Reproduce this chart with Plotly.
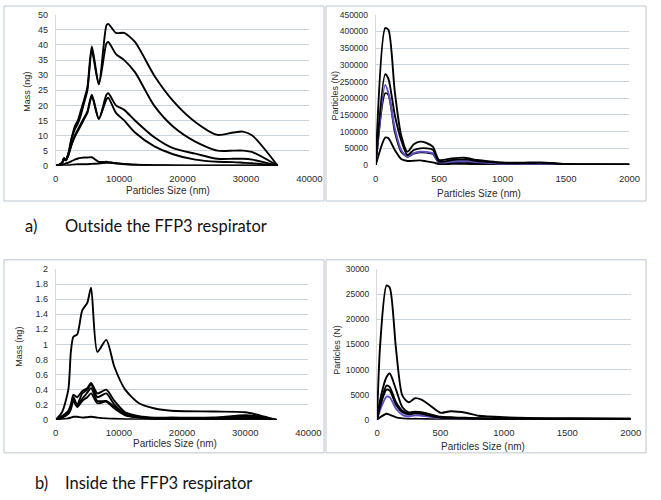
import plotly.graph_objects as go

# ---------- data ----------
# a) outside, mass
mass_out_x = [0, 500, 1000, 1300, 1600, 2000, 2500, 3000, 3500, 4000, 4500, 5000, 5700, 6800,
              8000, 8300, 9500, 10800, 12500, 15500, 18500, 22000, 25500, 28000, 29500, 31000, 35000]
mass_out_1 = [0, 0.3, 1, 2.5, 2, 4, 9, 13, 15, 18.5, 22, 26, 39.5, 27, 46.5, 47, 44, 44, 41, 30, 21.5, 14.5, 10.2, 11, 11.3, 10, 0]
mass_out_2 = [0, 0.3, 1, 2.5, 2, 4, 9, 12, 14, 17, 21, 25, 38, 27, 40.5, 41, 37, 35, 31, 20, 13, 8, 5, 5, 5, 4.5, 0]
mass_out_3 = [0, 0.2, 0.8, 2, 1.8, 3.5, 7, 10, 12, 14, 16, 18, 23.5, 15.5, 23.5, 24, 20, 18.5, 15, 9.5, 5.8, 4, 2.3, 2.3, 2.3, 2, 0]
mass_out_4 = [0, 0.2, 0.8, 2, 1.8, 3.5, 7, 9.5, 11.5, 13.5, 15.5, 17.5, 23, 15.5, 22, 22.5, 17.5, 15, 11, 6.5, 3.8, 2, 1.3, 1.2, 1, 0.8, 0]
mass_out_5 = [0, 0.1, 0.3, 0.5, 0.8, 1, 1.5, 2, 2.4, 2.6, 2.7, 2.7, 2.8, 1.3, 1.3, 1.2, 0.8, 0.5, 0.3, 0.2, 0.1, 0.1, 0.1, 0.1, 0.1, 0.05, 0]
mass_out_6 = [0, 0, 0.05, 0.1, 0.1, 0.2, 0.3, 0.4, 0.5, 0.5, 0.5, 0.5, 0.6, 0.7, 1, 1, 0.8, 0.6, 0.3, 0.1, 0.05, 0, 0, 0, 0, 0, 0]

# a) outside, particles
part_out_x = [0, 75, 100, 150, 200, 250, 300, 350, 400, 450, 500, 600, 700, 800, 900, 1000,
              1100, 1200, 1300, 1400, 1500, 1750, 2000]
part_out_1 = [0, 410000, 405000, 220000, 90000, 40000, 62000, 70000, 66000, 55000, 15000, 20000, 22000, 15000, 11000, 8000,
              7000, 7500, 8000, 6000, 3000, 2500, 2000]
part_out_2 = [0, 272000, 258000, 150000, 75000, 30000, 45000, 50000, 50000, 46000, 10000, 15000, 17000, 12000, 9000, 6000,
              5500, 6000, 6500, 4500, 2500, 2000, 1500]
part_out_3 = [0, 240000, 215000, 110000, 45000, 25000, 36000, 40000, 39000, 35000, 8000, 10000, 12000, 9000, 6000, 4000,
              3500, 4000, 4000, 3000, 1500, 1200, 1000]
part_out_4 = [0, 215000, 210000, 100000, 40000, 25000, 34000, 38000, 37000, 33000, 7000, 9000, 10000, 8000, 5000, 3500,
              3000, 3500, 3500, 2500, 1200, 1000, 800]
part_out_5 = [0, 82000, 80000, 45000, 18000, 12000, 13000, 14000, 11000, 8000, 3000, 3500, 4000, 3000, 2000, 1500,
              1200, 1200, 1000, 800, 500, 400, 300]

# b) inside, mass
mass_in_x = [0, 1000, 2000, 2400, 2800, 3400, 4200, 5000, 5600, 6600, 8000, 9300, 11000, 13200,
             15700, 18300, 25000, 30000, 32300, 35000]
mass_in_1 = [0, 0.1, 0.4, 0.9, 1.1, 1.13, 1.45, 1.55, 1.75, 0.9, 1.06, 0.7, 0.4, 0.22, 0.15, 0.12, 0.11, 0.1, 0.06, 0]
mass_in_2 = [0, 0.05, 0.12, 0.2, 0.33, 0.3, 0.38, 0.42, 0.49, 0.35, 0.4, 0.25, 0.1, 0.05, 0.03, 0.03, 0.03, 0.06, 0.04, 0]
mass_in_3 = [0, 0.04, 0.1, 0.18, 0.3, 0.2, 0.35, 0.4, 0.47, 0.3, 0.35, 0.2, 0.08, 0.04, 0.02, 0.02, 0.02, 0.04, 0.03, 0]
mass_in_4 = [0, 0.03, 0.09, 0.16, 0.28, 0.18, 0.28, 0.36, 0.42, 0.25, 0.25, 0.17, 0.07, 0.03, 0.02, 0.01, 0.01, 0.02, 0.02, 0]
mass_in_5 = [0, 0.03, 0.08, 0.14, 0.25, 0.17, 0.25, 0.3, 0.35, 0.22, 0.24, 0.15, 0.06, 0.03, 0.01, 0.01, 0.01, 0.01, 0.01, 0]
mass_in_6 = [0, 0.01, 0.02, 0.03, 0.04, 0.04, 0.03, 0.035, 0.04, 0.03, 0.02, 0.015, 0.01, 0.005, 0, 0, 0, 0, 0, 0]

# b) inside, particles
part_in_x = [0, 25, 75, 100, 150, 200, 250, 300, 350, 420, 500, 580, 700, 800, 1000, 1500, 2000]
part_in_1 = [0, 15000, 26700, 26300, 14000, 4800, 3500, 4300, 4000, 2800, 1400, 1700, 1400, 800, 500, 300, 200]
part_in_2 = [0, 4000, 8500, 9200, 6000, 2500, 1500, 1600, 1500, 1100, 600, 500, 400, 300, 200, 200, 200]
part_in_3 = [0, 3000, 6800, 6500, 3500, 1800, 1300, 1400, 1300, 900, 500, 400, 300, 250, 200, 150, 150]
part_in_4 = [0, 2800, 6000, 5800, 3000, 1500, 1100, 1300, 1200, 800, 450, 350, 300, 200, 150, 120, 120]
part_in_5 = [0, 2000, 4600, 4500, 2200, 1000, 700, 900, 800, 600, 350, 300, 250, 150, 100, 100, 100]
part_in_6 = [0, 500, 1200, 1000, 500, 300, 200, 200, 180, 150, 100, 80, 60, 50, 40, 30, 30]

BLUE = "#5b4fc4"
W, H = 661, 500

def fx(px):
    return px / W

def fy(py):
    return 1 - py / H

fig = go.Figure()

def add_lines(xs, series, xa, ya, blue_idx=None):
    for i, s in enumerate(series):
        col = BLUE if i == blue_idx else "black"
        fig.add_trace(go.Scatter(x=xs, y=s, mode="lines", xaxis=xa, yaxis=ya,
                                 line=dict(color=col, width=1.9, shape="spline", smoothing=0.7),
                                 showlegend=False, hoverinfo="skip"))

add_lines(mass_out_x, [mass_out_6, mass_out_5, mass_out_4, mass_out_3, mass_out_2, mass_out_1], "x", "y")
add_lines(part_out_x, [part_out_5, part_out_4, part_out_3, part_out_2, part_out_1], "x2", "y2", blue_idx=2)
add_lines(mass_in_x, [mass_in_6, mass_in_5, mass_in_4, mass_in_3, mass_in_2, mass_in_1], "x3", "y3")
add_lines(part_in_x, [part_in_6, part_in_5, part_in_4, part_in_3, part_in_2, part_in_1], "x4", "y4", blue_idx=1)

GRID = "#c9d4dc"
TICKC = "#2b2b2b"
FONT = "Liberation Sans"

panels = [
    # x0, x1, ytop, ybottom, xrange, dx, yrange, dy, yfmt, ytickfont
    (54, 314, 10, 164, [0, 40000], 10000, [0, 50], 5, "d", 9),
    (382, 642, 10, 163.3, [0, 2000], 500, [0, 450000], 50000, "d", 8.5),
    (54, 313, 269.3, 423.3, [0, 40000], 10000, [0, 2], 0.2, "", 9),
    (383.3, 643.3, 269.3, 423.3, [0, 2000], 500, [0, 30000], 5000, "d", 8.5),
]

layout = dict(width=W, height=H, margin=dict(l=0, r=0, t=0, b=0),
              paper_bgcolor="white", plot_bgcolor="white", showlegend=False,
              font=dict(family=FONT, color=TICKC))

for i, (x0, x1, yt, yb, xr, dx, yr, dy, yfmt, ytf) in enumerate(panels):
    n = "" if i == 0 else str(i + 1)
    layout["xaxis" + n] = dict(domain=[fx(x0), fx(x1)], range=xr, dtick=dx, tick0=0,
                               anchor="y" + n, showgrid=False, zeroline=False, showline=False,
                               ticks="", tickformat="d", ticklabelstandoff=6,
                               tickfont=dict(size=9.5, color=TICKC, family=FONT), fixedrange=True)
    layout["yaxis" + n] = dict(domain=[fy(yb), fy(yt)], range=yr, dtick=dy, tick0=0,
                               anchor="x" + n, showgrid=True, gridcolor=GRID, gridwidth=1,
                               zeroline=False, showline=True, linecolor="#d9d9d9", linewidth=1,
                               ticks="", tickformat=yfmt, ticklabelstandoff=5,
                               tickfont=dict(size=ytf, color=TICKC, family=FONT), fixedrange=True)

fig.update_layout(**layout)

# panel borders
BORDER = "#bcc6ce"
for (bx0, by0, bx1, by1) in [(1, 1, 329, 200), (331, 1, 659, 200), (1, 260, 329, 457), (331, 260, 659, 457)]:
    fig.add_shape(type="rect", xref="paper", yref="paper",
                  x0=fx(bx0), x1=fx(bx1), y0=fy(by1), y1=fy(by0),
                  line=dict(color=BORDER, width=1), fillcolor="rgba(0,0,0,0)", layer="below")

def ann(text, px, py, size, angle=0, xanchor="center", family=FONT, color=TICKC):
    fig.add_annotation(text=text, x=fx(px), y=fy(py), xref="paper", yref="paper",
                       showarrow=False, textangle=angle, xanchor=xanchor, yanchor="middle",
                       font=dict(size=size, family=family, color=color))

# axis titles
ann("Particles Size (nm)", 168.7, 189, 10)
ann("Mass (ng)", 25, 88, 9, angle=-90)
ann("Particles Size (nm)", 488, 192, 10)
ann("Particles (N)", 340, 92.5, 9, angle=-90)
ann("Particles Size (nm)", 176.7, 447, 10)
ann("Mass (ng)", 16, 349, 9, angle=-90)
ann("Particles Size (nm)", 491.7, 451, 10)
ann("Particles (N)", 342, 352, 9, angle=-90)

# captions
CAP = "Lato"
ann("a)", 21, 226, 16.5, xanchor="left", family=CAP, color="#111111")
ann("Outside the FFP3 respirator", 62, 226, 16.5, xanchor="left", family=CAP, color="#111111")
ann("b)", 31, 488, 16.5, xanchor="left", family=CAP, color="#111111")
ann("Inside the FFP3 respirator", 61, 488, 16.5, xanchor="left", family=CAP, color="#111111")

fig.write_html("out.html", config={"displayModeBar": False},
               post_script="document.body.style.margin='0';document.body.style.padding='0';")
